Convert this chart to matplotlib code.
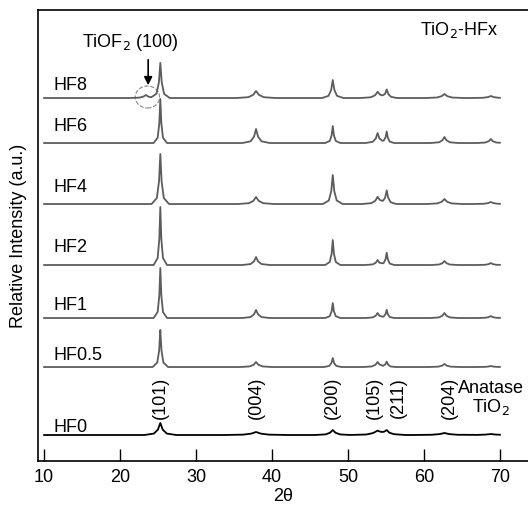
import numpy as np
import matplotlib.pyplot as plt
from matplotlib.patches import Ellipse

plt.rcParams['font.family'] = ['Liberation Sans', 'DejaVu Sans']

# peak positions (2theta) : TiOF2(100), (101), (004), (200), (105), (211), (204), (116)
peak_pos = [23.4, 25.3, 37.9, 48.0, 53.9, 55.1, 62.7, 68.8]
peak_hw = [0.4, 0.22, 0.45, 0.25, 0.4, 0.25, 0.45, 0.45]

samples = ["HF8", "HF6", "HF4", "HF2", "HF1", "HF0.5", "HF0"]
offsets = [363, 318, 257, 196, 143, 94, 26]
heights = [
    [3, 35, 7, 18, 6, 8, 4, 2],
    [0, 44, 14, 17, 10, 11, 6, 4],
    [0, 50, 7, 29, 7, 13, 5, 2],
    [0, 58, 8, 25, 5, 12, 4, 2],
    [0, 50, 8, 15, 5, 8, 5, 2],
    [0, 37, 5, 9, 5, 5, 3, 1],
    [0, 12, 3, 5, 4, 4, 2, 1],
]
width_scale = [1.4, 1, 1.3, 1, 1, 1.15, 2.4]
label_y = [376, 335, 274, 214, 156, 106, 34]

hkl_labels = ["(101)", "(004)", "(200)", "(105)", "(211)", "(204)"]
hkl_pos = [25.3, 38.0, 47.9, 53.5, 56.6, 63.3]


def trace(h_row, scale):
    # key points of each peak, from foot to apex to foot
    shape_x = [-4.0, -1.6, -0.6, 0.0, 0.6, 1.6, 4.0]
    shape_y = [0.0, 0.12, 0.45, 1.0, 0.45, 0.12, 0.0]
    xs = [10, 70]
    for p, w in zip(peak_pos, peak_hw):
        xs += [p + s * w * scale for s in shape_x]
    xs = np.array(sorted(x for x in xs if 10 <= x <= 70))
    ys = np.zeros_like(xs)
    for p, w, h in zip(peak_pos, peak_hw, h_row):
        px = [p + s * w * scale for s in shape_x]
        ys += h * np.interp(xs, px, shape_y, left=0, right=0)
    return xs, ys


fig = plt.figure(figsize=(5.28, 5.08), dpi=100)
ax = fig.add_axes([0.072, 0.0925, 0.928, 0.8878])

for i, name in enumerate(samples):
    x, y = trace(heights[i], width_scale[i])
    col = "black" if name == "HF0" else "#5c5c5c"
    ax.plot(x, y + offsets[i], color=col, lw=1.3)
    ax.text(11.2, label_y[i], name, fontsize=13, va="center", ha="left")

for lab, p in zip(hkl_labels, hkl_pos):
    ax.text(p, 63, lab, rotation=90, fontsize=13, ha="center", va="center")
ax.text(68.8, 63, "Anatase\nTiO$_2$", fontsize=13, ha="center", va="center",
        linespacing=1.0)

ax.text(21.4, 419, "TiOF$_2$ (100)", fontsize=13, ha="center", va="center")
ax.annotate("", xy=(23.7, 373), xytext=(23.7, 404),
            arrowprops=dict(arrowstyle="-|>", color="black", lw=1.2,
                            mutation_scale=12))
ax.add_patch(Ellipse((23.6, 364), 3.2, 22, fill=False, ls="--",
                     color="#888888", lw=0.8))
ax.text(64.6, 431, "TiO$_2$-HFx", fontsize=13, ha="center", va="center")

ax.set_xlim(9.2, 73.7)
ax.set_ylim(0, 451)
ax.set_xticks(np.arange(10, 71, 10))
ax.set_yticks([])
ax.tick_params(axis="x", direction="in", length=9, width=1, labelsize=13, pad=6)
ax.spines["right"].set_visible(False)
for s in ["left", "top", "bottom"]:
    ax.spines[s].set_linewidth(1.2)
ax.set_xlabel("2θ", fontsize=13, labelpad=1)
ax.set_ylabel("Relative Intensity (a.u.)", fontsize=13, labelpad=8)

fig.savefig("out.png", dpi=100)
